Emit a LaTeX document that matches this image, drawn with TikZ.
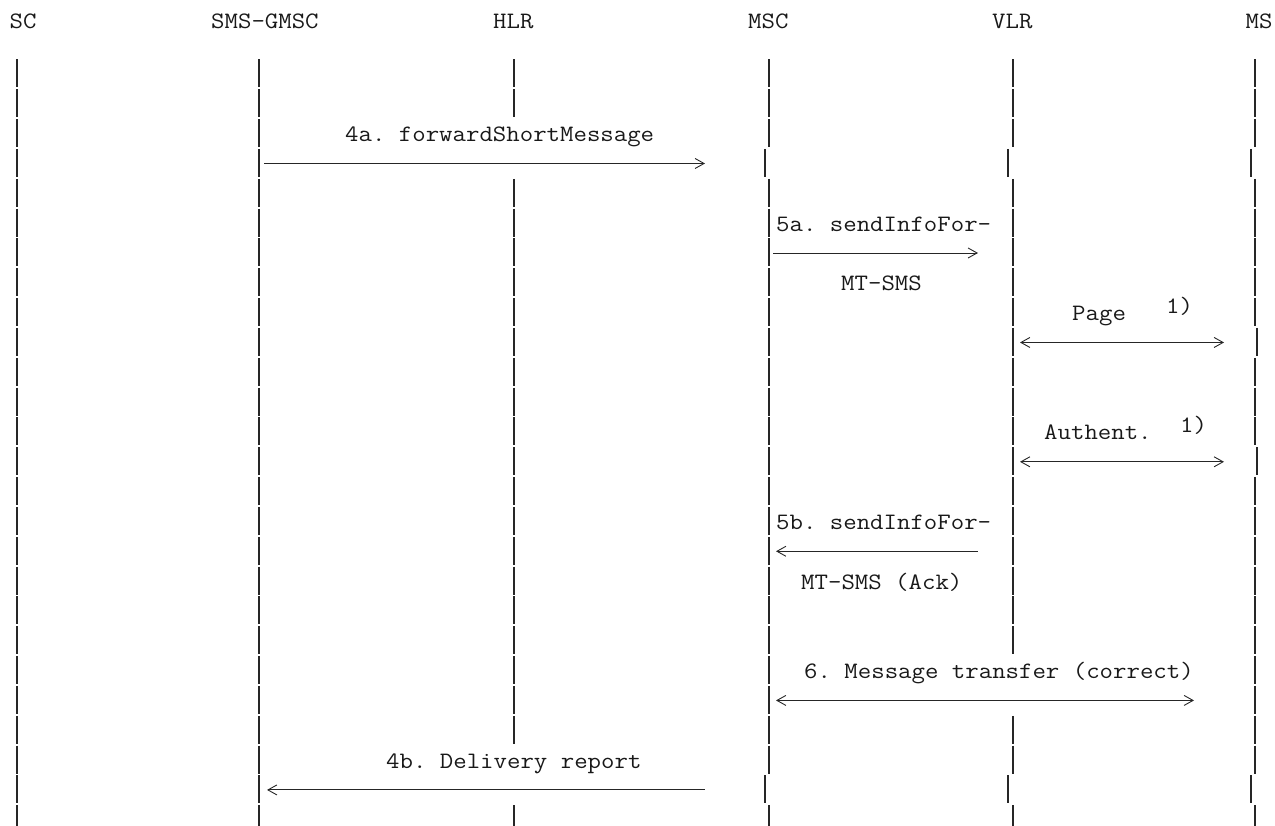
\documentclass[tikz,border=0pt]{standalone}
\usepackage{fontspec}
\usepackage{graphicx}
\usetikzlibrary{arrows.meta}
\frenchspacing
\newcommand\rowy[1]{74+29.83*(#1-1)}
\newcommand\lseg[2]{\draw[life] (#1,{\rowy{#2}-14.5}) -- ++(0,28);}
\newcommand\mono[1]{\scalebox{1.11}[1]{\ttfamily\fontsize{23.5}{27}\selectfont #1}}
\begin{document}
\begin{tikzpicture}[x=1pt,y=-1pt,
  lbl/.style={anchor=base west,inner sep=0pt,text=black!90},
  life/.style={line width=1.1pt,black!85},
  msg/.style={line width=0.9pt,black!85},
  tipR/.style={-{Straight Barb[length=9pt,width=10pt,line width=0.9pt]}},
  tipL/.style={{Straight Barb[length=9pt,width=10pt,line width=0.9pt]}-},
  tipB/.style={{Straight Barb[length=9pt,width=10pt,line width=0.9pt]}-{Straight Barb[length=9pt,width=10pt,line width=0.9pt]}}]
\useasboundingbox (0,0) rectangle (1275,826);
% headers
\node[lbl] (hsc)   at (9.5,29)  {\mono{SC}};
\node[lbl] (hgmsc) at (211,29) {\mono{SMS-GMSC}};
\node[lbl] (hhlr)  at (493,29) {\mono{HLR}};
\node[lbl] (hmsc)  at (748,29) {\mono{MSC}};
\node[lbl] (hvlr)  at (992,29) {\mono{VLR}};
\node[lbl] (hms)   at (1245.5,29) {\mono{MS}};
% lifelines
\foreach \r in {1,...,26} {\lseg{17}{\r} \lseg{259}{\r}}
\foreach \r in {1,2,5,6,7,8,9,10,11,12,13,14,15,16,17,18,19,20,21,22,23,26} {\lseg{514}{\r}}
\foreach \r in {1,2,3,5,6,7,8,9,10,11,12,13,14,15,16,17,18,19,20,21,22,23,24,26} {\lseg{769}{\r}}
\foreach \r in {4,25} {\lseg{765}{\r} \lseg{1008}{\r} \lseg{1251}{\r}}
\foreach \r in {1,2,3,5,6,7,8,9,10,11,12,13,14,15,16,17,18,19,20,23,24,26} {\lseg{1013}{\r}}
\foreach \r in {1,2,3,5,6,7,8,9,11,12,13,15,16,17,18,19,20,21,22,23,24,26} {\lseg{1255}{\r}}
\foreach \r in {10,14} {\lseg{1257}{\r}}
% message endpoints
\coordinate (m4as) at (264,{\rowy{4}});   \coordinate (m4ae) at (705,{\rowy{4}});
\coordinate (m5as) at (773,{\rowy{7}});   \coordinate (m5ae) at (978,{\rowy{7}});
\coordinate (mpgs) at (1020,{\rowy{10}}); \coordinate (mpge) at (1224,{\rowy{10}});
\coordinate (maus) at (1020,{\rowy{14}}); \coordinate (maue) at (1224,{\rowy{14}});
\coordinate (m5bs) at (776,{\rowy{17}});  \coordinate (m5be) at (978,{\rowy{17}});
\coordinate (m6s)  at (776,{\rowy{22}});  \coordinate (m6e)  at (1194,{\rowy{22}});
\coordinate (m4bs) at (267,{\rowy{25}});  \coordinate (m4be) at (705,{\rowy{25}});
\draw[msg,tipR] (m4as) -- (m4ae);
\draw[msg,tipR] (m5as) -- (m5ae);
\draw[msg,tipB] (mpgs) -- (mpge);
\draw[msg,tipB] (maus) -- (maue);
\draw[msg,tipL] (m5bs) -- (m5be);
\draw[msg,tipB] (m6s) -- (m6e);
\draw[msg,tipL] (m4bs) -- (m4be);
% labels
\node[lbl] (l4a)  at (345,{\rowy{3}+8})  {\mono{4a. forwardShortMessage}};
\node[lbl] (l5a)  at (776,{\rowy{6}+8})  {\mono{5a. sendInfoFor-}};
\node[lbl] (l5a2) at (841,{\rowy{8}+8})  {\mono{MT-SMS}};
\node[lbl] (lpg)  at (1072,{\rowy{9}+8}) {\mono{Page}};
\node[lbl] (lpg1) at (1166,{\rowy{9}+1}) {\mono{1)}};
\node[lbl] (lau)  at (1044,{\rowy{13}+8}) {\mono{Authent.}};
\node[lbl] (lau1) at (1180,{\rowy{13}+1}) {\mono{1)}};
\node[lbl] (l5b)  at (776,{\rowy{16}+8}) {\mono{5b. sendInfoFor-}};
\node[lbl] (l5b2) at (801,{\rowy{18}+8}) {\mono{MT-SMS (Ack)}};
\node[lbl] (l6)   at (804,{\rowy{21}+8}) {\mono{6. Message transfer (correct)}};
\node[lbl] (l4b)  at (386,{\rowy{24}+8}) {\mono{4b. Delivery report}};
\end{tikzpicture}
\end{document}
